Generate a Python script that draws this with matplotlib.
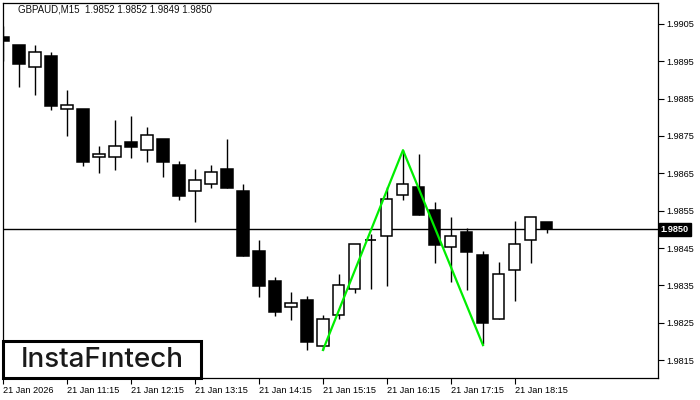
import matplotlib
matplotlib.use('Agg')
import matplotlib.pyplot as plt
from matplotlib.patches import Rectangle
import matplotlib.transforms as mtransforms

plt.rcParams['font.family'] = ['Liberation Sans', 'DejaVu Sans']

symbol = 'GBPAUD,M15'

# 15-minute candles, first one at 10:15
opens = [1.99014, 1.98994, 1.98934, 1.98964, 1.98822, 1.98822, 1.98693, 1.98693,
         1.98733, 1.98712, 1.98741, 1.98672, 1.98602, 1.98621, 1.98662, 1.98603,
         1.98442, 1.98362, 1.98291, 1.98311, 1.98189, 1.98270, 1.98339, 1.98471,
         1.98481, 1.98591, 1.98613, 1.98552, 1.98452, 1.98492, 1.98431, 1.98259,
         1.98390, 1.98471, 1.98520]
highs = [1.99045, 1.98994, 1.98994, 1.98974, 1.98873, 1.98822, 1.98723, 1.98793,
         1.98804, 1.98774, 1.98741, 1.98683, 1.98662, 1.98672, 1.98742, 1.98621,
         1.98471, 1.98372, 1.98332, 1.98321, 1.98271, 1.98380, 1.98460, 1.98487,
         1.98614, 1.98712, 1.98702, 1.98573, 1.98534, 1.98503, 1.98442, 1.98412,
         1.98522, 1.98532, 1.98520]
lows = [1.98952, 1.98882, 1.98861, 1.98820, 1.98751, 1.98670, 1.98652, 1.98659,
        1.98692, 1.98681, 1.98641, 1.98579, 1.98520, 1.98612, 1.98612, 1.98429,
        1.98320, 1.98269, 1.98258, 1.98178, 1.98177, 1.98259, 1.98330, 1.98339,
        1.98349, 1.98579, 1.98539, 1.98411, 1.98360, 1.98338, 1.98192, 1.98259,
        1.98309, 1.98411, 1.98490]
closes = [1.99003, 1.98942, 1.98974, 1.98831, 1.98832, 1.98681, 1.98701, 1.98722,
          1.98721, 1.98752, 1.98681, 1.98590, 1.98631, 1.98653, 1.98612, 1.98429,
          1.98349, 1.98279, 1.98302, 1.98199, 1.98259, 1.98350, 1.98460, 1.98471,
          1.98580, 1.98621, 1.98539, 1.98459, 1.98481, 1.98440, 1.98250, 1.98380,
          1.98460, 1.98532, 1.98500]

# double bottom pattern
pattern_idx = [20, 25, 30]
pattern_price = [1.98177, 1.98712, 1.98190]

current_price = 1.9850

price_ticks = [1.9815, 1.9825, 1.9835, 1.9845, 1.9855, 1.9865, 1.9875, 1.9885, 1.9895, 1.9905]
time_tick_idx = [0, 4, 8, 12, 16, 20, 24, 28, 32]
time_labels = ['21 Jan 2026', '21 Jan 11:15', '21 Jan 12:15', '21 Jan 13:15', '21 Jan 14:15',
               '21 Jan 15:15', '21 Jan 16:15', '21 Jan 17:15', '21 Jan 18:15']

W, H = 700, 400
fig = plt.figure(figsize=(7, 4), dpi=100)
ax = fig.add_axes([3 / W, 22 / H, 655 / W, 375 / H])

body_w = 0.69
for i in range(len(opens)):
    o, h, l, c = opens[i], highs[i], lows[i], closes[i]
    ax.vlines(i, l, h, color='black', linewidth=1.0, zorder=2)
    if abs(c - o) < 1e-6:
        ax.hlines(o, i - body_w / 2, i + body_w / 2, color='black', linewidth=1.2, zorder=3)
    else:
        fc = 'white' if c > o else 'black'
        ax.add_patch(Rectangle((i - body_w / 2, min(o, c)), body_w, abs(c - o),
                               facecolor=fc, edgecolor='black', linewidth=1.1, zorder=3))

ax.axhline(current_price, color='black', linewidth=1.0, zorder=1)
ax.plot(pattern_idx, pattern_price, color='#00ee00', linewidth=1.6, zorder=4)

ax.set_xlim(0, 40.94)
ax.set_ylim(1.98102, 1.99106)

for s in ax.spines.values():
    s.set_linewidth(0.9)

ax.yaxis.tick_right()
ax.set_yticks(price_ticks)
ax.set_yticklabels([f'{p:.4f}' for p in price_ticks])
ax.tick_params(axis='y', direction='out', length=4, width=0.8, pad=2, labelsize=6.6)

ax.set_xticks(time_tick_idx)
ax.set_xticklabels(time_labels, ha='left')
ax.tick_params(axis='x', direction='out', length=4, width=0.8, pad=2, labelsize=6.6)

# current price marker on the scale
trans = mtransforms.blended_transform_factory(ax.transAxes, ax.transData)
ax.text(1.004, current_price, f'{current_price:.4f}', transform=trans, color='white',
        fontsize=6.6, fontweight='bold', ha='left', va='center', clip_on=False,
        bbox=dict(boxstyle='square,pad=0.22', facecolor='black', edgecolor='black'))

title = f'{symbol}  {opens[-1]:.4f} {highs[-1]:.4f} {lows[-1]:.4f} {closes[-1]:.4f}'
fig.text(18 / W, 1 - 10 / H, title, fontsize=7, color='#111111', ha='left', va='center')

# logo box
logo = Rectangle((3 / W, 22 / H), 198 / W, 37 / H, transform=fig.transFigure,
                 facecolor='white', edgecolor='black', linewidth=2.2, zorder=5)
fig.patches.append(logo)
fig.text(102 / W, 40 / H, 'InstaF\u0131ntech', fontsize=20, family=['Inter', 'DejaVu Sans'],
         fontweight='medium', color='#1a1a1a', ha='center', va='center', zorder=6)

fig.savefig('out.png', dpi=100)
